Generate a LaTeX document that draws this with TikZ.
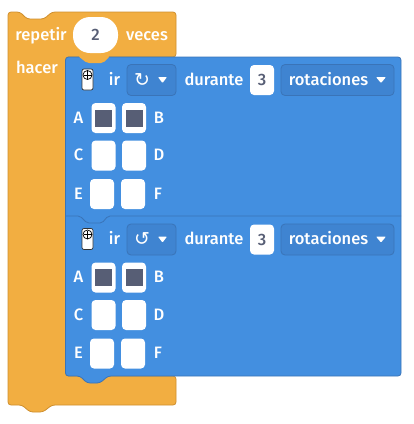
\documentclass[tikz,border=0pt]{standalone}
\usepackage{fontspec}
\setmainfont{Fira Sans}[UprightFont=* Medium]
\newfontfamily\symbfont{DejaVu Sans}
\usepackage{tikz}
\definecolor{loopfill}{HTML}{F2AE41}
\definecolor{loopedge}{HTML}{CF8F2E}
\definecolor{motorfill}{HTML}{438FE0}
\definecolor{motoredge}{HTML}{3A74B8}
\definecolor{menufill}{HTML}{3F84D1}
\definecolor{valuetext}{HTML}{575E75}
\tikzset{
    x=1pt,
    y=-1pt,
    blocktext/.style = {
        text=white,
        font=\fontsize{16.5}{18}\selectfont,
        anchor=base,
        inner sep=0pt
    },
    menu/.style = {
        draw=motoredge,
        fill=menufill,
        shape=rectangle,
        rounded corners=4pt,
        line width=0.8pt
    },
    numbox/.style = {
        fill=white,
        shape=rectangle,
        rounded corners=4pt,
        minimum width=24pt,
        minimum height=30pt,
        inner sep=0pt,
        text=valuetext,
        font=\fontsize{16.5}{18}\selectfont
    },
    led/.style = {
        fill=white,
        shape=rectangle,
        rounded corners=4pt,
        minimum width=24pt,
        minimum height=30pt,
        inner sep=0pt
    },
    ledon/.style = {
        fill=valuetext,
        shape=rectangle,
        minimum width=17pt,
        minimum height=17pt,
        inner sep=0pt
    },
}

\begin{document}
\begin{tikzpicture}
    \useasboundingbox (0,0) rectangle (414,424);

    % outer loop block
    \draw[fill=loopfill, draw=loopedge, line width=0.8pt, rounded corners=3pt]
        (8,12) -- (20,12) -- (27,19) -- (44,19) -- (52,12) -- (176,12) -- (176,57)
        -- (65.5,57) -- (65.5,376) -- (176,376) -- (176,405) -- (52,405) -- (43,412)
        -- (30,412) -- (22,405) -- (8,405) -- cycle;

    % motor blocks
    \draw[fill=motorfill, draw=motoredge, line width=0.8pt, rounded corners=3pt]
        (65.5,57) -- (401,57) -- (401,376) -- (108,376) -- (100,383) -- (87,383)
        -- (80,376) -- (65.5,376) -- cycle;
    \fill[loopfill, rounded corners=2pt]
        (78,56) -- (87,63) -- (103,63) -- (110,56) -- cycle;
    \draw[motoredge, line width=0.8pt, rounded corners=2pt]
        (65.5,216) -- (80,216) -- (87,223) -- (102,223) -- (108,216) -- (401,216);

    % loop header
    \node[blocktext] (repetir) at (41,40) {repetir};
    \node[numbox, rounded corners=17pt, minimum width=45pt, minimum height=36pt] (times) at (95.5,35) {2};
    \node[blocktext] (veces) at (147,40) {veces};
    \node[blocktext] (hacer) at (37,73) {hacer};

    \foreach \dy/\n/\turn in {0/1/\symbol{"21BB},159.5/2/\symbol{"21BA}} {
        % remote icon
        \draw[fill=white, draw=black!80, line width=0.7pt, rounded corners=2pt]
            (82,{69+\dy}) rectangle (93,{90+\dy});
        \draw[fill=white, draw=black, line width=0.7pt] (87.5,{75+\dy}) circle (4.5);
        \draw[black, line width=0.8pt] (83.5,{75+\dy}) -- (91.5,{75+\dy}) (87.5,{71+\dy}) -- (87.5,{79+\dy});

        % top row
        \node[blocktext] (ir\n) at (114.5,{85+\dy}) {ir};
        \node[menu, minimum width=49pt, minimum height=31pt] (dir\n) at (151.5,{80+\dy}) {};
        \node[blocktext, font=\fontsize{19}{20}\selectfont] (turn\n) at (142,{86+\dy}) {\symbfont\turn};
        \fill[white, rounded corners=0.8pt] (158,{77+\dy}) -- (167,{77+\dy}) -- (162.5,{83+\dy}) -- cycle;
        \node[blocktext] (durante\n) at (214,{85+\dy}) {durante};
        \node[numbox] (num\n) at (262,{80+\dy}) {3};
        \node[menu, minimum width=113pt, minimum height=31pt] (unit\n) at (337.5,{80+\dy}) {};
        \node[blocktext] (rot\n) at (328.5,{85+\dy}) {rotaciones};
        \fill[white, rounded corners=0.8pt] (376,{77+\dy}) -- (386,{77+\dy}) -- (381,{83+\dy}) -- cycle;

        % lights
        \node[led] (a\n) at (103.5,{118+\dy}) {};
        \node[led] (b\n) at (134,{118+\dy}) {};
        \node[led] (c\n) at (103.5,{155.5+\dy}) {};
        \node[led] (d\n) at (134,{155.5+\dy}) {};
        \node[led] (e\n) at (102,{194+\dy}) {};
        \node[led] (f\n) at (133,{194+\dy}) {};
        \node[ledon] at (a\n) {};
        \node[ledon] at (b\n) {};

        \node[blocktext] (la\n) at (78.5,{123+\dy}) {A};
        \node[blocktext] (lb\n) at (159,{123+\dy}) {B};
        \node[blocktext] (lc\n) at (78.5,{160.5+\dy}) {C};
        \node[blocktext] (ld\n) at (159,{160.5+\dy}) {D};
        \node[blocktext] (le\n) at (78.5,{199+\dy}) {E};
        \node[blocktext] (lf\n) at (158,{199+\dy}) {F};
    }
\end{tikzpicture}
\end{document}
